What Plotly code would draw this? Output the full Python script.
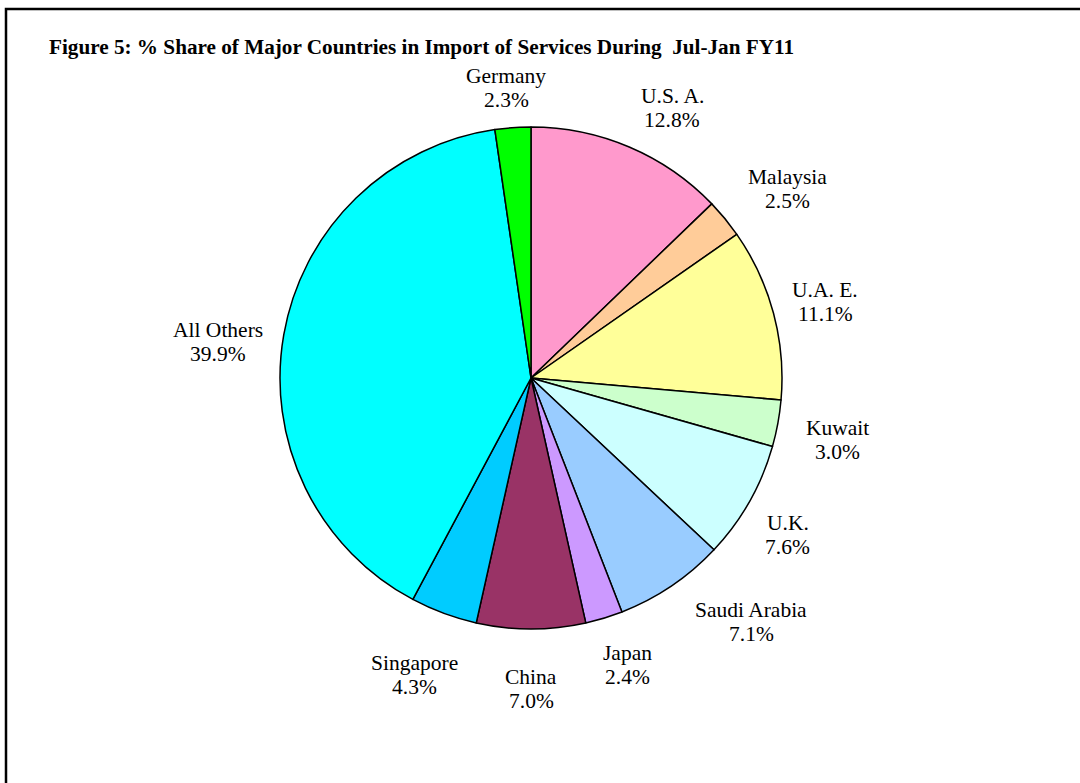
import math
import plotly.graph_objects as go

countries = ["U.S. A.", "Malaysia", "U.A. E.", "Kuwait", "U.K.", "Saudi Arabia",
             "Japan", "China", "Singapore", "All Others", "Germany"]
shares = [12.8, 2.5, 11.1, 3.0, 7.6, 7.1, 2.4, 7.0, 4.3, 39.9, 2.3]
colors = ["#FF99CC", "#FFCC99", "#FFFF99", "#CCFFCC", "#CCFFFF", "#99CCFF",
          "#CC99FF", "#993366", "#00CCFF", "#00FFFF", "#00FF00"]
title_text = "Figure 5: % Share of Major Countries in Import of Services During  Jul-Jan FY11"

# layout parameters: label distance from centre (in pie radii) and angular nudge (degrees)
label_dist = [1.215, 1.27, 1.21, 1.245, 1.20, 1.31, 1.207, 1.24, 1.27, 1.255, 1.16]
label_nudge = [4.6, 3.0, 0.5, 1.0, 2.0, -8.0, -1.7, 0.0, 1.0, -3.4, -0.7]

W, H = 1080, 783
cx, cy, r = 531, 405, 251  # pie centre (px from left, px from bottom) and radius
font = "Liberation Serif, Times New Roman, serif"

fig = go.Figure(go.Pie(
    labels=countries, values=shares, sort=False, direction="clockwise",
    rotation=0, marker=dict(colors=colors, line=dict(color="black", width=1.5)),
    textinfo="none", hoverinfo="label+percent", showlegend=False,
    domain=dict(x=[(cx - r) / W, (cx + r) / W], y=[(cy - r) / H, (cy + r) / H]),
))

total = sum(shares)
cum = 0.0
annotations = []
for name, v, f, nd in zip(countries, shares, label_dist, label_nudge):
    mid = (cum + v / 2) / total * 2 * math.pi + math.radians(nd)
    cum += v
    d = r * f
    x = (cx + d * math.sin(mid)) / W
    y = (cy + d * math.cos(mid)) / H
    for txt, shift in ((name, 12), (f"{v:.1f}%", -12)):
        annotations.append(dict(
            x=x, y=y, xref="paper", yref="paper", showarrow=False,
            text=txt, yshift=shift,
            font=dict(family=font, size=21.5, color="black"),
            xanchor="center", yanchor="middle",
        ))

annotations.append(dict(
    x=47 / W, y=1 - 47 / H, xref="paper", yref="paper", showarrow=False,
    text=f"<b>{title_text}</b>", xanchor="left", yanchor="middle",
    font=dict(family=font, size=21.2, color="black"),
))

fig.update_layout(
    width=W, height=H, margin=dict(l=0, r=0, t=0, b=0),
    paper_bgcolor="white", plot_bgcolor="white",
    annotations=annotations,
    shapes=[dict(type="rect", xref="paper", yref="paper",
                 x0=6 / W, x1=1.05, y0=-0.05, y1=1 - 9 / H,
                 line=dict(color="black", width=2.5))],
)
fig.write_html("out.html", config={"displayModeBar": False},
               post_script="document.body.style.margin='0';document.body.style.overflow='hidden';")
